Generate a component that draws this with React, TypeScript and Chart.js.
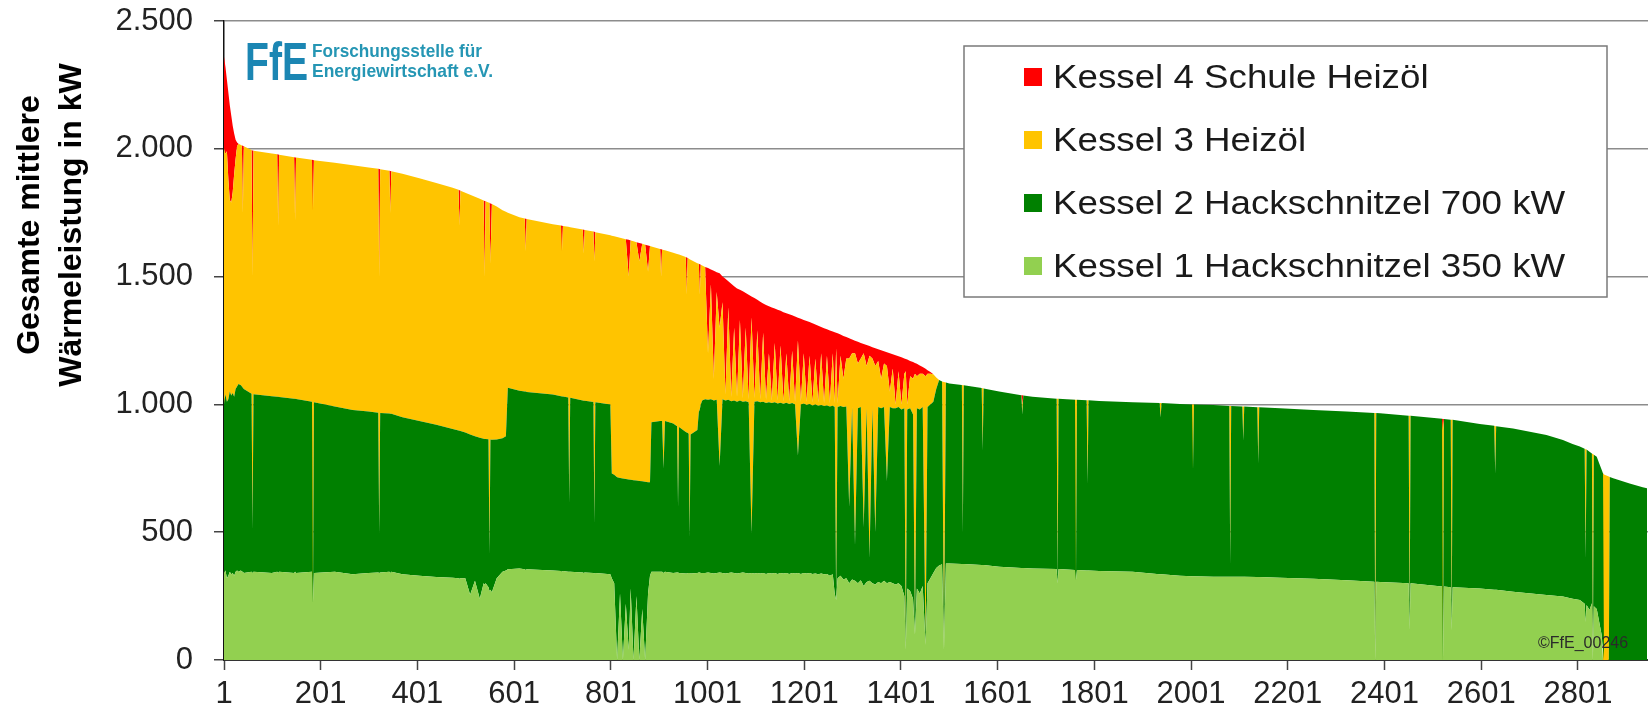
import React, { useEffect, useRef } from 'react';
import { Chart, registerables } from 'chart.js';

Chart.register(...registerables);

// Hours of the sorted load duration curve (x positions of the read points)
const hours = [
  1, 4, 7, 10, 13, 16, 19, 22, 25, 28, 31,
  36, 38, 40, 42, 58, 60, 62, 100, 111, 113,
  115, 146, 148, 150, 183, 185, 187, 230, 267, 300,
  320, 322, 324, 343, 345, 347, 370, 405, 440, 474,
  486, 488, 490, 500, 510, 520, 530, 538, 540, 542,
  548, 550, 552, 555, 565, 577, 584, 588, 612, 623,
  625, 627, 681, 698, 700, 702, 713, 715, 717, 743,
  745, 747, 765, 767, 769, 800, 803, 808, 814, 820,
  826, 832, 838, 842, 848, 854, 860, 866, 872, 878,
  882, 885, 903, 905, 907, 910, 913, 930, 938, 940,
  942, 956, 958, 960, 962, 964, 966, 980, 983, 985,
  987, 990,
  996, 1002, 1008, 1014, 1020, 1026, 1032, 1038, 1044, 1050,
  1056, 1062, 1068, 1074, 1080, 1086, 1092, 1098, 1104, 1110,
  1116, 1122, 1128, 1134, 1140, 1146, 1152, 1158, 1164, 1170,
  1176, 1182, 1188, 1194, 1200, 1206, 1212, 1218, 1224, 1230,
  1236, 1242, 1248, 1254, 1260, 1264, 1267, 1270, 1276, 1282,
  1288, 1294, 1300, 1306, 1312, 1318, 1324, 1330, 1336, 1342,
  1348, 1354, 1360, 1366, 1372, 1378, 1384, 1390, 1396, 1402,
  1408, 1411, 1414, 1420, 1426, 1430, 1434, 1440, 1446, 1452,
  1456, 1462, 1468, 1474, 1480, 1486, 1490, 1494,
  1501, 1527, 1529, 1531, 1568, 1570, 1572, 1604, 1650, 1652,
  1654, 1673, 1723, 1725, 1727, 1761, 1763, 1765, 1785, 1787,
  1789, 1811, 1880, 1936, 1938, 1940, 1978, 2003, 2005, 2007,
  2047, 2080, 2082, 2084, 2107, 2109, 2111, 2138, 2140, 2142,
  2185, 2254, 2323, 2380, 2382, 2384, 2392, 2451, 2453, 2455,
  2520, 2522, 2524, 2538, 2540, 2542, 2598, 2628, 2630, 2632,
  2667, 2736, 2770, 2790, 2805, 2815, 2817, 2819, 2825, 2830,
  2832, 2834, 2840, 2845, 2850, 2853, 2855, 2865, 2867, 2874,
  2908, 2935, 2944,
];

// Upper edge of each stacked layer (cumulative kW)
const kessel1Top = [
  340, 350, 320, 330, 345, 335, 340, 330, 345, 350, 345,
  350, 345, 345, 340, 345, 340, 345, 340, 345, 340,
  345, 340, 345, 340, 345, 224, 340, 345, 335, 340,
  342, 340, 342, 345, 340, 345, 335, 330, 325, 322,
  320, 318, 320, 320, 255, 310, 240, 300, 295, 300,
  285, 270, 275, 265, 320, 345, 350, 355, 358, 355,
  352, 355, 350, 348, 345, 348, 345, 345, 345, 342,
  340, 342, 340, 338, 340, 335, 320, 300, 0, 260,
  0, 220, 40, 280, 0, 250, 0, 200, 0, 260,
  330, 345, 345, 345, 345, 340, 345, 340, 342, 342,
  340, 338, 338, 340, 340, 340, 338, 340, 342, 342,
  340, 340,
  340, 342, 340, 338, 340, 342, 340, 338, 340, 342,
  340, 338, 340, 342, 340, 338, 340, 338, 340, 338,
  340, 336, 340, 338, 340, 336, 340, 338, 340, 336,
  340, 338, 340, 336, 340, 338, 340, 336, 338, 335,
  338, 335, 336, 330, 335, 260, 235, 320, 330, 315,
  320, 300, 315, 310, 300, 312, 290, 305, 310, 300,
  295, 305, 300, 310, 300, 305, 300, 295, 300, 290,
  250, 40, 280, 270, 240, 100, 280, 260, 290, 60,
  300, 320, 340, 360, 370, 375, 40, 378,
  378, 376, 376, 376, 372, 372, 372, 365, 360, 360,
  360, 358, 356, 300, 356, 352, 313, 352, 350, 350,
  350, 348, 345, 335, 335, 335, 330, 328, 328, 328,
  326, 326, 326, 326, 326, 326, 326, 325, 325, 325,
  322, 318, 312, 306, 0, 306, 305, 300, 117, 300,
  288, 0, 288, 285, 117, 285, 280, 275, 275, 275,
  267, 254, 248, 240, 235, 220, 150, 215, 196, 222,
  0, 210, 200, 150, 100, 0, 0, 0, 0, 0,
  0, 0, 0,
];

const kessel2Top = [
  1000, 1040, 1010, 1020, 1050, 1035, 1045, 1030, 1060, 1070, 1080,
  1075, 1070, 1065, 1060, 1042, 510, 1040, 1032, 1030, 1030,
  1029, 1022, 1022, 1021, 1010, 224, 1008, 992, 978, 972,
  967, 496, 966, 964, 963, 963, 950, 935, 920, 904,
  898, 897, 896, 890, 882, 875, 870, 866, 865, 865,
  864, 414, 863, 862, 863, 868, 875, 1065, 1053, 1050,
  1050, 1049, 1039, 1032, 1031, 1031, 1027, 618, 1026, 1015,
  1014, 1014, 1009, 537, 1008, 1000, 730, 725, 715, 712,
  710, 708, 706, 705, 703, 702, 700, 699, 697, 695,
  695, 930, 935, 935, 935, 750, 935, 925, 915, 600,
  912, 892, 890, 888, 885, 480, 882, 900, 970, 980,
  1000, 1015,
  1020, 1018, 1020, 1015, 1018, 760, 1020, 1015, 1018, 1012,
  1015, 1010, 1015, 1010, 1012, 1008, 495, 1010, 1012, 1008,
  1010, 1005, 1008, 1005, 1008, 1004, 1006, 1003, 1006, 1002,
  1005, 1000, 800, 1000, 1004, 998, 1002, 996, 1000, 995,
  998, 994, 996, 992, 995, 990, 235, 990, 994, 990,
  992, 600, 990, 450, 985, 990, 520, 985, 400, 985,
  500, 990, 985, 990, 700, 990, 985, 985, 990, 980,
  985, 40, 980, 985, 960, 100, 985, 980, 990, 60,
  990, 1000, 1010, 1060, 1095, 1090, 40, 1086,
  1082, 1076, 495, 1075, 1064, 820, 1062, 1050, 1036, 960,
  1035, 1030, 1022, 300, 1022, 1018, 313, 1018, 1016, 690,
  1016, 1013, 1008, 1005, 950, 1005, 1002, 1000, 743, 1000,
  998, 994, 378, 994, 992, 860, 992, 989, 770, 989,
  985, 978, 972, 966, 0, 966, 965, 956, 117, 956,
  944, 0, 943, 940, 117, 940, 923, 916, 730, 915,
  906, 880, 861, 845, 835, 826, 400, 824, 815, 808,
  0, 803, 795, 770, 745, 730, 0, 0, 716, 711,
  691, 676, 672,
];

const kessel3Top = [
  2000, 1980, 1990, 1880, 1800, 1790, 1830, 1900, 1960, 2010, 2020,
  2015, 2013, 1750, 2010, 1995, 1500, 1992, 1982, 1979, 1700,
  1977, 1967, 1720, 1966, 1957, 1760, 1955, 1945, 1936, 1927,
  1922, 1500, 1920, 1914, 1750, 1912, 1902, 1885, 1866, 1848,
  1840, 1700, 1836, 1828, 1820, 1812, 1805, 1798, 1500, 1795,
  1790, 1789, 1550, 1784, 1774, 1760, 1754, 1750, 1732, 1727,
  1600, 1725, 1705, 1700, 1600, 1698, 1695, 1694, 1693, 1684,
  1590, 1682, 1676, 1560, 1674, 1662, 1660, 1658, 1655, 1652,
  1649, 1646, 1500, 1641, 1638, 1634, 1560, 1629, 1625, 1520,
  1620, 1618, 1608, 1500, 1606, 1604, 1603, 1593, 1588, 1587,
  1586, 1577, 1430, 1573, 1571, 1568, 1566, 1552, 1550, 1430,
  1546, 1543,
  1538, 1200, 1470, 1100, 1440, 1300, 1400, 1040, 1380, 1030,
  1300, 1030, 1330, 1025, 1300, 1020, 1340, 1025, 1290, 1020,
  1280, 1018, 1200, 1015, 1240, 1015, 1230, 1012, 1200, 1012,
  1210, 1010, 1250, 1010, 1200, 1010, 1190, 1008, 1180, 1008,
  1200, 1005, 1190, 1005, 1200, 1005, 1220, 1005, 1190, 1100,
  1180, 1180, 1200, 1200, 1160, 1180, 1200, 1150, 1190, 1180,
  1150, 1170, 1100, 1160, 1150, 1050, 1140, 1000, 1130, 1000,
  1120, 1130, 1000, 1110, 1100, 1120, 1110, 1120, 1120, 1110,
  1120, 1120, 1118, 1105, 1095, 1090, 1088, 1086,
  1082, 1076, 1075, 1075, 1064, 1063, 1062, 1050, 1036, 1000,
  1035, 1030, 1022, 1022, 1022, 1018, 1018, 1018, 1016, 1016,
  1016, 1013, 1008, 1005, 1005, 1005, 1002, 1000, 1000, 1000,
  998, 994, 994, 994, 992, 992, 992, 989, 989, 989,
  985, 978, 972, 966, 966, 966, 965, 956, 956, 956,
  944, 900, 943, 940, 940, 940, 923, 916, 915, 915,
  906, 880, 861, 845, 835, 826, 825, 824, 815, 808,
  806, 803, 795, 770, 745, 730, 726, 718, 716, 711,
  691, 676, 672,
];

const kessel4Top = [
  2360, 2320, 2270, 2220, 2170, 2130, 2090, 2060, 2035, 2025, 2020,
  2015, 2013, 2012, 2010, 1995, 1993, 1992, 1982, 1979, 1978,
  1977, 1967, 1966, 1966, 1957, 1956, 1955, 1945, 1936, 1927,
  1922, 1921, 1920, 1914, 1913, 1912, 1902, 1885, 1866, 1848,
  1840, 1838, 1836, 1828, 1820, 1812, 1805, 1798, 1796, 1795,
  1790, 1789, 1786, 1784, 1774, 1760, 1754, 1750, 1732, 1727,
  1726, 1725, 1705, 1700, 1699, 1698, 1695, 1694, 1693, 1684,
  1683, 1682, 1676, 1675, 1674, 1662, 1660, 1658, 1655, 1652,
  1649, 1646, 1644, 1641, 1638, 1634, 1631, 1629, 1625, 1622,
  1620, 1618, 1608, 1607, 1606, 1604, 1603, 1593, 1588, 1587,
  1586, 1577, 1575, 1573, 1571, 1568, 1566, 1552, 1550, 1548,
  1546, 1543,
  1538, 1534, 1528, 1523, 1517, 1513, 1500, 1492, 1482, 1472,
  1462, 1453, 1449, 1443, 1436, 1429, 1422, 1416, 1409, 1402,
  1395, 1389, 1384, 1379, 1375, 1370, 1366, 1361, 1357, 1353,
  1349, 1344, 1339, 1335, 1330, 1326, 1322, 1317, 1313, 1308,
  1303, 1298, 1294, 1289, 1285, 1282, 1280, 1278, 1273, 1268,
  1264, 1259, 1254, 1249, 1245, 1240, 1236, 1232, 1228, 1224,
  1220, 1216, 1212, 1208, 1204, 1200, 1196, 1192, 1188, 1184,
  1180, 1178, 1176, 1170, 1166, 1162, 1159, 1152, 1146, 1139,
  1134, 1127, 1118, 1105, 1095, 1090, 1088, 1086,
  1082, 1076, 1075, 1075, 1064, 1063, 1062, 1050, 1036, 1036,
  1035, 1030, 1022, 1022, 1022, 1018, 1018, 1018, 1016, 1016,
  1016, 1013, 1008, 1005, 1005, 1005, 1002, 1000, 1000, 1000,
  998, 994, 994, 994, 992, 992, 992, 989, 989, 989,
  985, 978, 972, 966, 966, 966, 965, 956, 956, 956,
  944, 943, 943, 940, 940, 940, 923, 916, 915, 915,
  906, 880, 861, 845, 835, 826, 825, 824, 815, 808,
  806, 803, 795, 770, 745, 730, 726, 718, 716, 711,
  691, 676, 672,
];

const seriesLabels = [
  'Kessel 1 Hackschnitzel 350 kW',
  'Kessel 2 Hackschnitzel 700 kW',
  'Kessel 3 Heizöl',
  'Kessel 4 Schule Heizöl',
];
const seriesColors = ['#92D050', '#008000', '#FFC400', '#FF0000'];

const xTickValues = [1, 201, 401, 601, 801, 1001, 1201, 1401, 1601, 1801, 2001, 2201, 2401, 2601, 2801];
const yTickValues = [0, 500, 1000, 1500, 2000, 2500];
const yTitleLines = ['Gesamte mittlere', 'Wärmeleistung in kW'];
const logoLines = ['Forschungsstelle für', 'Energiewirtschaft e.V.'];
const copyrightText = '©FfE_00246';

const FONT = '"Liberation Sans", Arial, Helvetica, sans-serif';

function formatThousands(v: number): string {
  if (v >= 1000) {
    const th = Math.floor(v / 1000);
    const rest = String(v % 1000).padStart(3, '0');
    return th + '.' + rest;
  }
  return String(v);
}

const overlayPlugin = {
  id: 'overlayDecor',
  afterDraw(chart: any) {
    const ctx: CanvasRenderingContext2D = chart.ctx;

    // Y axis title (two lines, rotated)
    ctx.save();
    ctx.fillStyle = '#000';
    ctx.font = 'bold 32px ' + FONT;
    ctx.textAlign = 'center';
    ctx.textBaseline = 'alphabetic';
    const titleX = [39, 81];
    yTitleLines.forEach((t, i) => {
      ctx.save();
      ctx.translate(titleX[i], 225);
      ctx.rotate(-Math.PI / 2);
      ctx.fillText(t, 0, 0);
      ctx.restore();
    });
    ctx.restore();

    // Logo
    ctx.save();
    const grad = ctx.createLinearGradient(245, 40, 308, 80);
    grad.addColorStop(0, '#3fb4cf');
    grad.addColorStop(1, '#1b86b3');
    ctx.fillStyle = grad;
    ctx.font = 'bold 54px ' + FONT;
    ctx.textAlign = 'left';
    ctx.textBaseline = 'alphabetic';
    ctx.fillText('FfE', 245, 80, 63);
    ctx.fillStyle = '#2596b4';
    ctx.font = 'bold 19px ' + FONT;
    ctx.fillText(logoLines[0], 312, 57, 170);
    ctx.fillText(logoLines[1], 312, 77, 181);
    ctx.restore();

    // Legend box
    ctx.save();
    const bx = 964, by = 46, bw = 643, bh = 251;
    ctx.fillStyle = '#ffffff';
    ctx.fillRect(bx, by, bw, bh);
    ctx.strokeStyle = '#7a7a7a';
    ctx.lineWidth = 1.5;
    ctx.strokeRect(bx, by, bw, bh);
    const ds = chart.data.datasets.slice().reverse();
    const baselines = [88, 151, 214, 277];
    ctx.font = '34px ' + FONT;
    ctx.textAlign = 'left';
    ctx.textBaseline = 'alphabetic';
    ds.forEach((d: any, i: number) => {
      const yb = baselines[i];
      ctx.fillStyle = d.backgroundColor;
      ctx.fillRect(1024, yb - 20, 18, 18);
      ctx.fillStyle = '#1a1a1a';
      ctx.save();
      ctx.translate(1053, yb);
      ctx.scale(1.08, 1);
      ctx.fillText(d.label, 0, 0);
      ctx.restore();
    });
    ctx.restore();

    // Copyright
    ctx.save();
    ctx.fillStyle = '#2a2a2a';
    ctx.font = '16px ' + FONT;
    ctx.textAlign = 'left';
    ctx.textBaseline = 'alphabetic';
    ctx.fillText(copyrightText, 1538, 648, 97);
    ctx.restore();
  },
};

export default function App() {
  const canvasRef = useRef<HTMLCanvasElement | null>(null);

  useEffect(() => {
    const canvas = canvasRef.current;
    if (!canvas) return;
    Chart.defaults.font.family = FONT;
    const tops = [kessel1Top, kessel2Top, kessel3Top, kessel4Top];
    const chart = new Chart(canvas, {
      type: 'line',
      data: {
        datasets: tops.map((arr, i) => ({
          label: seriesLabels[i],
          data: hours.map((h, j) => ({ x: h, y: arr[j] })),
          backgroundColor: seriesColors[i],
          borderColor: seriesColors[i],
          borderWidth: 0,
          pointRadius: 0,
          pointHoverRadius: 0,
          tension: 0,
          fill: i === 0 ? 'origin' : '-1',
        })),
      },
      options: {
        animation: false,
        responsive: false,
        maintainAspectRatio: false,
        events: [],
        layout: { padding: { top: 21, right: 0, bottom: 0, left: 0 } },
        plugins: {
          legend: { display: false },
          tooltip: { enabled: false },
          title: { display: false },
        },
        scales: {
          x: {
            type: 'linear',
            min: 1,
            max: 2946,
            afterBuildTicks: (s: any) => {
              s.ticks = xTickValues.map((v) => ({ value: v }));
            },
            afterFit: (s: any) => {
              s.height = 52;
              s.paddingLeft = 0;
              s.paddingRight = 0;
            },
            ticks: {
              autoSkip: false,
              maxRotation: 0,
              padding: 6,
              color: '#222',
              font: { size: 31, family: FONT },
              callback: (v: any) => String(v),
            },
            grid: {
              display: true,
              drawOnChartArea: false,
              drawTicks: true,
              tickLength: 10,
              tickColor: '#444',
              tickWidth: 1.5,
            },
            border: { display: true, color: '#333', width: 2 },
          },
          y: {
            type: 'linear',
            min: 0,
            max: 2500,
            afterBuildTicks: (s: any) => {
              s.ticks = yTickValues.map((v) => ({ value: v }));
            },
            afterFit: (s: any) => {
              s.width = 224;
              s.paddingTop = 0;
              s.paddingBottom = 0;
            },
            ticks: {
              padding: 21,
              color: '#222',
              font: { size: 31, family: FONT },
              callback: (v: any) => formatThousands(Number(v)),
            },
            grid: {
              color: '#8c8c8c',
              lineWidth: 1.5,
              drawTicks: true,
              tickLength: 10,
              tickColor: '#444',
              tickWidth: 1.5,
            },
            border: { display: true, color: '#111', width: 1.5 },
          },
        },
      },
      plugins: [overlayPlugin],
    });
    return () => chart.destroy();
  }, []);

  return (
    <div style={{ position: 'absolute', left: 0, top: 0, width: 1648, height: 712, background: '#fff' }}>
      <canvas ref={canvasRef} width={1648} height={712} style={{ display: 'block' }} />
    </div>
  );
}
